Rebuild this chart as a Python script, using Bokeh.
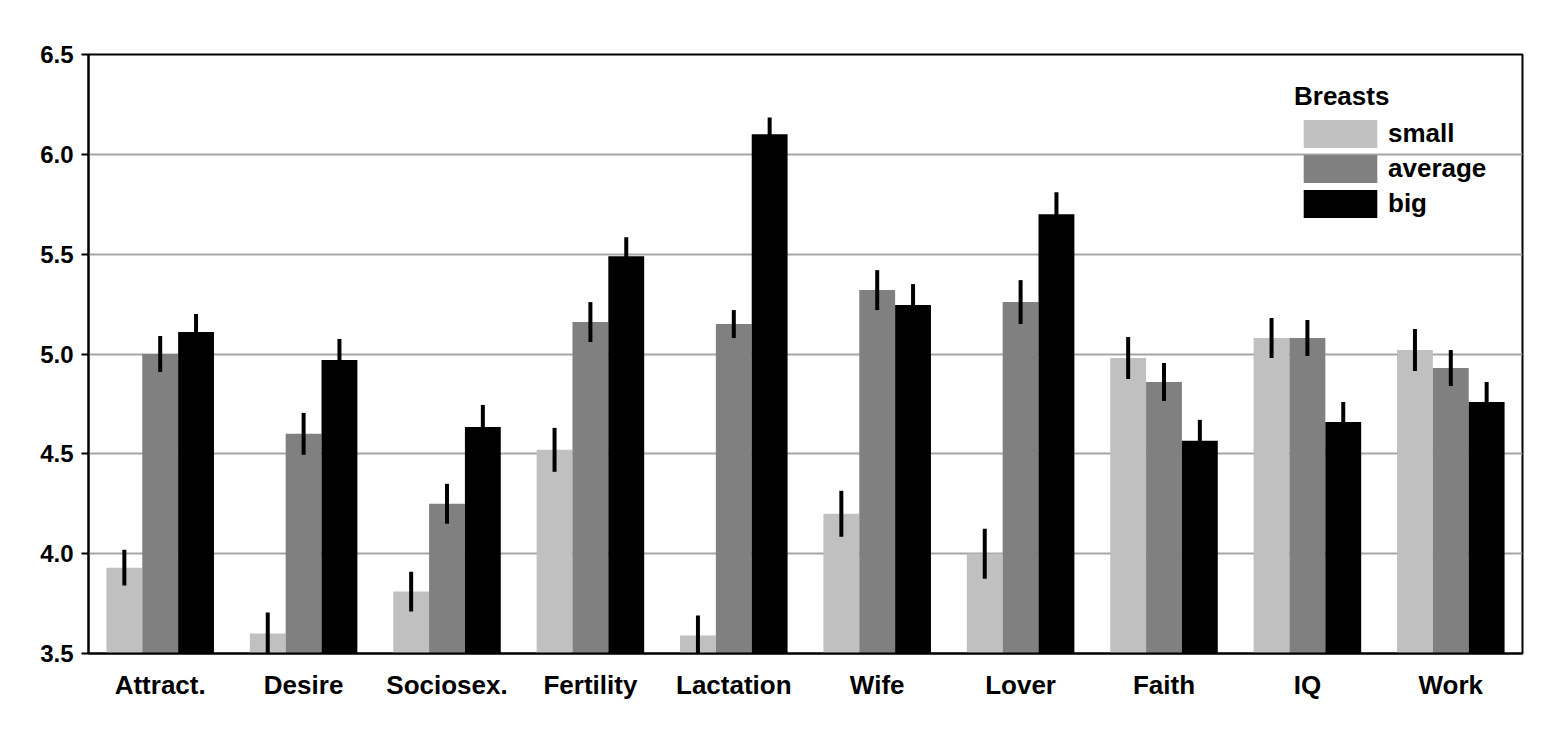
from bokeh.plotting import figure
from bokeh.models import ColumnDataSource, FactorRange, Legend, LegendItem, FixedTicker
from bokeh.transform import dodge
from bokeh.embed import file_html
from bokeh.resources import INLINE

categories = ["Attract.", "Desire", "Sociosex.", "Fertility", "Lactation", "Wife", "Lover", "Faith", "IQ", "Work"]
small = [3.93, 3.60, 3.81, 4.52, 3.59, 4.20, 4.00, 4.98, 5.08, 5.02]
average = [5.00, 4.60, 4.25, 5.16, 5.15, 5.32, 5.26, 4.86, 5.08, 4.93]
big = [5.11, 4.97, 4.635, 5.49, 6.10, 5.245, 5.70, 4.565, 4.66, 4.76]
small_err = [0.09, 0.105, 0.10, 0.11, 0.10, 0.115, 0.125, 0.105, 0.10, 0.105]
average_err = [0.09, 0.105, 0.10, 0.10, 0.07, 0.10, 0.11, 0.095, 0.09, 0.09]
big_err = [0.09, 0.105, 0.11, 0.095, 0.085, 0.105, 0.11, 0.105, 0.10, 0.10]
series_names = ["small", "average", "big"]
series_colors = ["#c0c0c0", "#808080", "#000000"]
legend_title = "Breasts"
y_ticks = [3.5, 4.0, 4.5, 5.0, 5.5, 6.0, 6.5]

FONT = "Liberation Sans"

src = ColumnDataSource(dict(
    cat=categories,
    small=small, average=average, big=big,
    small_lo=[v - e for v, e in zip(small, small_err)],
    small_hi=[v + e for v, e in zip(small, small_err)],
    average_lo=[v - e for v, e in zip(average, average_err)],
    average_hi=[v + e for v, e in zip(average, average_err)],
    big_lo=[v - e for v, e in zip(big, big_err)],
    big_hi=[v + e for v, e in zip(big, big_err)],
))

p = figure(x_range=FactorRange(*categories, range_padding=0), y_range=(3.5, 6.5),
           width=1539, height=713, output_backend="svg", toolbar_location=None,
           min_border_left=88, min_border_right=17, min_border_top=54, min_border_bottom=60)

offsets = [-0.25, 0.0, 0.25]
items = []
for name, color, off in zip(series_names, series_colors, offsets):
    r = p.vbar(x=dodge("cat", off, range=p.x_range), top=name, bottom=3.5, width=0.25,
               source=src, fill_color=color, line_color=None)
    p.segment(x0=dodge("cat", off, range=p.x_range), x1=dodge("cat", off, range=p.x_range),
              y0=name + "_lo", y1=name + "_hi", source=src, line_color="black", line_width=4)
    items.append(LegendItem(label=name, renderers=[r]))

legend = Legend(items=items, title=legend_title, location=(1206, 432),
                glyph_width=92, glyph_height=35, spacing=0, padding=0, margin=0,
                label_standoff=2, border_line_color=None, background_fill_alpha=0,
                label_text_font=FONT, label_text_font_style="bold", label_text_font_size="26px",
                label_text_color="black",
                title_text_font=FONT, title_text_font_style="bold", title_text_font_size="26px",
                title_text_color="black", title_standoff=4)
p.add_layout(legend)

p.xgrid.grid_line_color = None
p.ygrid.grid_line_color = "#a6a6a6"
p.ygrid.grid_line_width = 2
p.ygrid.ticker = FixedTicker(ticks=y_ticks)

p.yaxis.ticker = FixedTicker(ticks=y_ticks)
p.yaxis.major_label_overrides = {t: f"{t:.1f}" for t in y_ticks}
p.yaxis.axis_line_width = 2
p.yaxis.major_tick_line_width = 2
p.yaxis.major_tick_out = 7
p.yaxis.major_tick_in = 0
p.yaxis.minor_tick_line_color = None
p.yaxis.major_label_standoff = 8

p.xaxis.major_tick_line_color = None
p.xaxis.axis_line_width = 2
p.xaxis.major_label_standoff = 10

for ax in (p.xaxis, p.yaxis):
    ax.major_label_text_font = FONT
    ax.major_label_text_font_style = "bold"
    ax.major_label_text_color = "black"
    ax.axis_line_color = "black"
p.xaxis.major_label_text_font_size = "26px"
p.yaxis.major_label_text_font_size = "24px"

p.outline_line_color = "black"
p.outline_line_width = 2

open("out.html", "w").write(file_html(p, INLINE))
